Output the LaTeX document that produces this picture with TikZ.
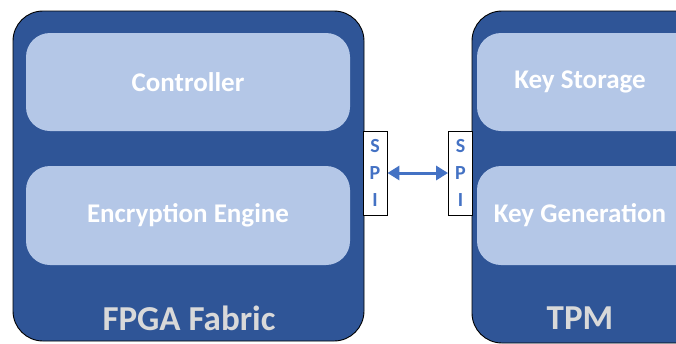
\documentclass[tikz,border=0pt]{standalone}
\usepackage{fontspec}
\setmainfont{Carlito}
\usetikzlibrary{arrows.meta}
\definecolor{darkblue}{HTML}{2F5597}
\definecolor{lightblue}{HTML}{B4C7E7}
\definecolor{labelgrey}{HTML}{D9D9D9}
\definecolor{spiblue}{HTML}{4472C4}
\begin{document}
\begin{tikzpicture}[x=1pt,y=-1pt,
  outerbox/.style={draw=black,line width=0.9pt,fill=darkblue,rounded corners=30pt},
  innerbox/.style={fill=lightblue,rounded corners=24pt},
  innertext/.style={text=white,font=\bfseries\fontsize{27}{32}\selectfont},
  bottomtext/.style={text=labelgrey,font=\bfseries\fontsize{35}{40}\selectfont},
  spibox/.style={draw=black,line width=0.9pt,fill=white},
  spitext/.style={text=spiblue,font=\bfseries\fontsize{20}{24}\selectfont}]
\useasboundingbox (0,0) rectangle (676,343);
\clip (0,0) rectangle (676,343);
% FPGA side
\draw[outerbox] (13,11) rectangle (364,341);
\fill[innerbox] (26,33) rectangle (350,131);
\fill[innerbox] (26,166) rectangle (350,265);
\node[innertext] (ctrl) at (188,82) {Controller};
\node[innertext] (enc) at (188,215) {Encryption Engine};
\node[bottomtext] (fpga) at (189,318) {FPGA Fabric};
% TPM side
\draw[outerbox] (472,11) rectangle (720,343);
\fill[innerbox] (477,33) rectangle (705,131);
\fill[innerbox] (477,166) rectangle (705,265);
\node[innertext] (ks) at (580,82) {Key Storage};
\node[innertext] (kg) at (580,215) {Key Generation};
\node[bottomtext] (tpm) at (580,318) {TPM};
% SPI ports
\node[spibox,minimum width=24pt,minimum height=84pt,inner sep=0pt] (spiL) at (375,173) {};
\node[spibox,minimum width=24pt,minimum height=84pt,inner sep=0pt] (spiR) at (460.5,173) {};
\foreach \n in {spiL,spiR}{
  \node[spitext] at ([yshift=27pt]\n.center) {S};
  \node[spitext] at (\n.center) {P};
  \node[spitext] at ([yshift=-27pt]\n.center) {I};
}
\draw[spiblue,line width=3pt,{Triangle[length=12pt,width=14pt]}-{Triangle[length=12pt,width=14pt]}] (spiL.east) -- (spiR.west);
\end{tikzpicture}
\end{document}
